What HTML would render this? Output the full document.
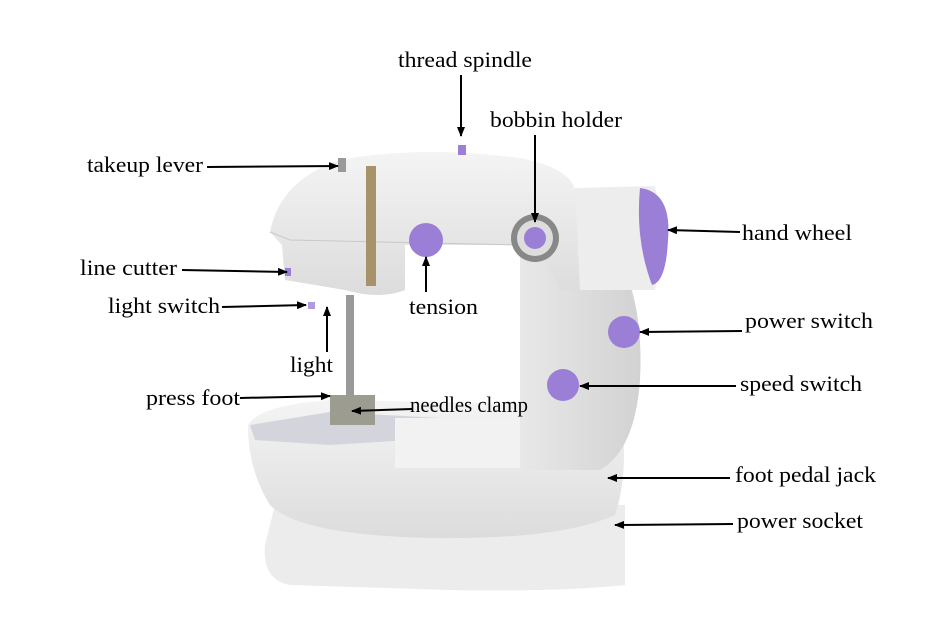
<!DOCTYPE html>
<html><head><style>
body{margin:0;background:#fff;}
svg{display:block}
text{font-family:"Liberation Serif",serif;font-size:22px;fill:#000}
</style></head><body>
<svg width="950" height="644" viewBox="0 0 950 644">
<defs>
<marker id="a" markerWidth="10" markerHeight="8" refX="9" refY="4" orient="auto" markerUnits="userSpaceOnUse"><path d="M0,0 L10,4 L0,8z" fill="#000"/></marker>
<linearGradient id="g" x1="0" y1="0" x2="0" y2="1"><stop offset="0" stop-color="#f4f4f4"/><stop offset="1" stop-color="#dcdcdc"/></linearGradient>
<linearGradient id="g2" x1="0" y1="0" x2="1" y2="0"><stop offset="0" stop-color="#e8e8e8"/><stop offset="1" stop-color="#d2d2d2"/></linearGradient>
</defs>
<path d="M275,505 Q300,495 420,500 L625,505 L625,585 Q560,592 450,590 L290,585 Q262,580 265,545 Z" fill="#ececec"/>
<path d="M248,425 Q260,405 330,400 L620,405 Q630,470 615,515 Q560,540 430,538 Q300,535 270,505 Q248,470 248,425Z" fill="url(#g)"/>
<path d="M250,425 L330,412 L440,418 L440,438 L330,445 L255,440Z" fill="#d4d4dc"/>
<path d="M520,240 Q560,200 600,230 Q645,280 640,380 Q635,450 600,470 L520,470 Z" fill="url(#g2)"/>
<rect x="395" y="418" width="125" height="50" fill="#f2f2f2"/>
<path d="M270,232 Q280,180 340,160 Q420,145 520,158 Q570,168 575,190 L600,200 L600,290 L560,290 Q545,250 520,245 L405,245 L405,290 Q380,300 345,290 L285,280 L282,245 Z" fill="url(#g)"/>
<path d="M270,232 L290,240 L520,245" stroke="#c8c8c8" fill="none"/>
<path d="M575,188 L655,186 Q665,236 655,290 L580,290 Z" fill="#ededed"/>
<path d="M640,188 Q672,192 668,240 Q666,282 652,285 Q635,240 640,188Z" fill="#9b7fd6"/>
<rect x="366" y="166" width="10" height="120" fill="#a8926a"/>
<rect x="338" y="158" width="8" height="14" fill="#999"/>
<rect x="458" y="145" width="8" height="10" fill="#9b7fd6"/>
<circle cx="426" cy="240" r="17" fill="#9b7fd6"/>
<circle cx="535" cy="238" r="24" fill="#888"/><circle cx="535" cy="238" r="18" fill="#ddd"/><circle cx="535" cy="238" r="11" fill="#9b7fd6"/>
<rect x="346" y="295" width="8" height="115" fill="#999"/>
<rect x="330" y="395" width="45" height="30" fill="#9c9c90"/>
<circle cx="624" cy="332" r="16" fill="#9b7fd6"/>
<circle cx="563" cy="385" r="16" fill="#9b7fd6"/>
<rect x="285" y="268" width="6" height="8" fill="#9b7fd6"/>
<rect x="308" y="302" width="7" height="7" fill="#b09ae0"/>
<g stroke="#000" stroke-width="2" fill="none" marker-end="url(#a)">
<line x1="461" y1="75" x2="461" y2="136"/>
<line x1="535" y1="135" x2="535" y2="222"/>
<line x1="207" y1="167" x2="338" y2="166"/>
<line x1="740" y1="232" x2="668" y2="230"/>
<line x1="182" y1="270" x2="287" y2="272"/>
<line x1="222" y1="307" x2="306" y2="305"/>
<line x1="426" y1="292" x2="426" y2="257"/>
<line x1="327" y1="352" x2="327" y2="307"/>
<line x1="240" y1="398" x2="330" y2="396"/>
<line x1="412" y1="409" x2="352" y2="411"/>
<line x1="742" y1="331" x2="640" y2="332"/>
<line x1="736" y1="386" x2="580" y2="386"/>
<line x1="730" y1="478" x2="608" y2="478"/>
<line x1="733" y1="524" x2="615" y2="525"/>
</g>
<text x="398" y="67" textLength="134" lengthAdjust="spacingAndGlyphs">thread spindle</text>
<text x="490" y="127" textLength="132" lengthAdjust="spacingAndGlyphs">bobbin holder</text>
<text x="87" y="172" textLength="116" lengthAdjust="spacingAndGlyphs">takeup lever</text>
<text x="742" y="240" textLength="110" lengthAdjust="spacingAndGlyphs">hand wheel</text>
<text x="80" y="275" textLength="97" lengthAdjust="spacingAndGlyphs">line cutter</text>
<text x="108" y="313" textLength="112" lengthAdjust="spacingAndGlyphs">light switch</text>
<text x="409" y="314" textLength="69" lengthAdjust="spacingAndGlyphs">tension</text>
<text x="290" y="372" textLength="43" lengthAdjust="spacingAndGlyphs">light</text>
<text x="146" y="405" textLength="94" lengthAdjust="spacingAndGlyphs">press foot</text>
<text x="410" y="412" textLength="118" lengthAdjust="spacingAndGlyphs">needles clamp</text>
<text x="745" y="328" textLength="128" lengthAdjust="spacingAndGlyphs">power switch</text>
<text x="740" y="391" textLength="122" lengthAdjust="spacingAndGlyphs">speed switch</text>
<text x="735" y="482" textLength="141" lengthAdjust="spacingAndGlyphs">foot pedal jack</text>
<text x="737" y="528" textLength="126" lengthAdjust="spacingAndGlyphs">power socket</text>
</svg>
</body></html>
